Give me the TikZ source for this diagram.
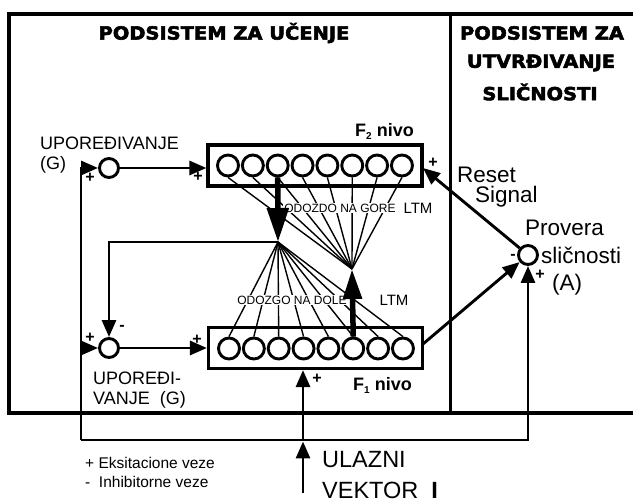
\documentclass[tikz,border=0pt]{standalone}
\usepackage{fontspec}
\setmainfont{Liberation Sans}
\newfontfamily\heavyfont[FakeStretch=1.08, FakeBold=3]{DejaVu Sans}
\usetikzlibrary{arrows.meta}
\tikzset{
  wire/.style={line width=2.9pt},
  conn/.style={wire, -{Triangle[length=17pt,width=14pt]}},
  bigarr/.style={line width=5.5pt, -{Triangle[length=34pt,width=21pt]}},
  bigarrb/.style={line width=5.5pt, -{Triangle[length=30pt,width=18pt]}},
  fan/.style={line width=1.4pt},
  cell/.style={circle, draw, line width=2.9pt, minimum size=21pt, inner sep=0},
  cmp/.style={circle, draw, line width=2.9pt, minimum size=19pt, inner sep=0},
  lvl/.style={draw, line width=3.2pt, inner sep=0, minimum width=214pt, minimum height=41pt},
  txt/.style={inner sep=0, anchor=west, font=\fontsize{18}{18}\selectfont},
  bigtxt/.style={inner sep=0, anchor=west, font=\fontsize{22.5}{22}\selectfont},
  ttl/.style={inner sep=0, font=\heavyfont\bfseries\fontsize{18}{18}\selectfont},
  sg/.style={inner sep=0, font=\bfseries\fontsize{16}{16}\selectfont},
  small/.style={fill=white, inner sep=1pt, font=\fontsize{12}{12}\selectfont},
  ltm/.style={inner sep=0, font=\fontsize{15}{15}\selectfont},
  nivo/.style={inner sep=0, anchor=west, font=\bfseries\fontsize{18}{18}\selectfont}
}
\begin{document}
\begin{tikzpicture}[x=1pt,y=-1pt]
\useasboundingbox (0,0) rectangle (633,502);
% outer frame
\draw[line width=3.5pt] (633,14) -- (9,14) -- (9,413) -- (633,413);
\draw[line width=3pt] (450,14) -- (450,413);
% titles
\node[ttl] (t1) at (224,33) {PODSISTEM ZA UČENJE};
\node[ttl] (t2) at (542,33) {PODSISTEM ZA};
\node[ttl] (t3) at (541,63) {UTVRĐIVANJE};
\node[ttl] (t4) at (540,92) {SLIČNOSTI};
% level boxes
\node[lvl] (F2) at (315,165.5) {};
\node[lvl] (F1) at (315.5,348) {};
\foreach \i in {1,...,8}{
  \node[cell] (f2c\i) at ({228+24.85*(\i-1)},165.5) {};
  \node[cell] (f1c\i) at ({229+24.85*(\i-1)},348.5) {};
}
\node[nivo] (F2l) at (355,131) {F\raisebox{-3pt}{\fontsize{10}{10}\selectfont 2} nivo};
\node[nivo] (F1l) at (353,385) {F\raisebox{-3pt}{\fontsize{10}{10}\selectfont 1} nivo};
% comparators
\node[cmp] (G1) at (109,168) {};
\node[cmp] (G2) at (109,348) {};
\node[cmp] (A) at (528,255) {};
% coordinates
\coordinate (PTD) at (278,242);
\coordinate (PBU) at (352,269);
\coordinate (LB) at (81,440);
\coordinate (INB) at (303,493);
\coordinate (INL) at (303,440);
\coordinate (INT) at (303,441.5);
\coordinate (RS) at (423,168);
\coordinate (F1o) at (423,344);
% fan connections
\foreach \i in {1,...,8}{
  \draw[fan] (f2c\i.south) -- (PBU);
  \draw[fan] (f1c\i.north) -- (PTD);
}
\node[small] (l1) at (340,208) {ODOZDO NA GORE};
\node[ltm] (l2) at (418,208.5) {LTM};
\node[small] (l3) at (292,300) {ODOZGO NA DOLE};
\node[ltm] (l4) at (394,300) {LTM};
% thick LTM arrows
\draw[bigarr] (f2c3.south) -- (PTD);
\draw[bigarrb] (f1c6.north) -- (PBU);
% connections
\draw[conn] (G1) -- (F2.west |- G1);
\draw[conn] (G2) -- (F1.west |- G2);
\draw[conn] (LB) -- (LB |- G1) -- (G1);
\draw[conn] (LB |- G2) -- (G2);
\draw[conn] (PTD) -- (PTD -| G2) -- (G2);
\draw[conn] (LB) -- (A |- LB) -- (A);
\draw[conn] (INB) -- (INT);
\draw[conn] (INL) -- (INL |- F1.south);
\draw[conn] (A) -- (RS);
\draw[conn] (F1o) -- (A);
% signs
\node[sg] (s1) at (90,178) {+};
\node[sg] (s2) at (198,177) {+};
\node[sg] (s3) at (90,338) {+};
\node[sg] (s4) at (197,340) {+};
\node[sg] (s5) at (122,328) {-};
\node[sg] (s6) at (433,163) {+};
\node[sg] (s7) at (513,257) {-};
\node[sg] (s8) at (540,275) {+};
\node[sg] (s9) at (317,379) {+};
% labels
\node[txt] (u1) at (40,143) {UPOREĐIVANJE};
\node[txt] (u2) at (40,165) {(G)};
\node[txt] (u3) at (93,378) {UPOREĐI-};
\node[txt] (u4) at (93,399.5) {VANJE\ \ (G)};
\node[bigtxt] (r1) at (457,175) {Reset};
\node[bigtxt] (r2) at (475,197) {Signal};
\node[bigtxt] (p1) at (525,228) {Provera};
\node[bigtxt] (p2) at (541,255) {sličnosti};
\node[bigtxt] (p3) at (552,285) {(A)};
\node[inner sep=0, anchor=west, font=\fontsize{23.5}{24}\selectfont] (v1) at (322,460) {ULAZNI};
\node[inner sep=0, anchor=west, font=\fontsize{23.5}{24}\selectfont] (v2) at (322,490) {VEKTOR\ \ \textbf{I}};
\node[inner sep=0, anchor=west, font=\fontsize{15.5}{16}\selectfont] (e1) at (85,463) {+ Eksitacione veze};
\node[inner sep=0, anchor=west, font=\fontsize{15.5}{16}\selectfont] (e2) at (85,482) {-\ \ Inhibitorne veze};
\end{tikzpicture}
\end{document}
